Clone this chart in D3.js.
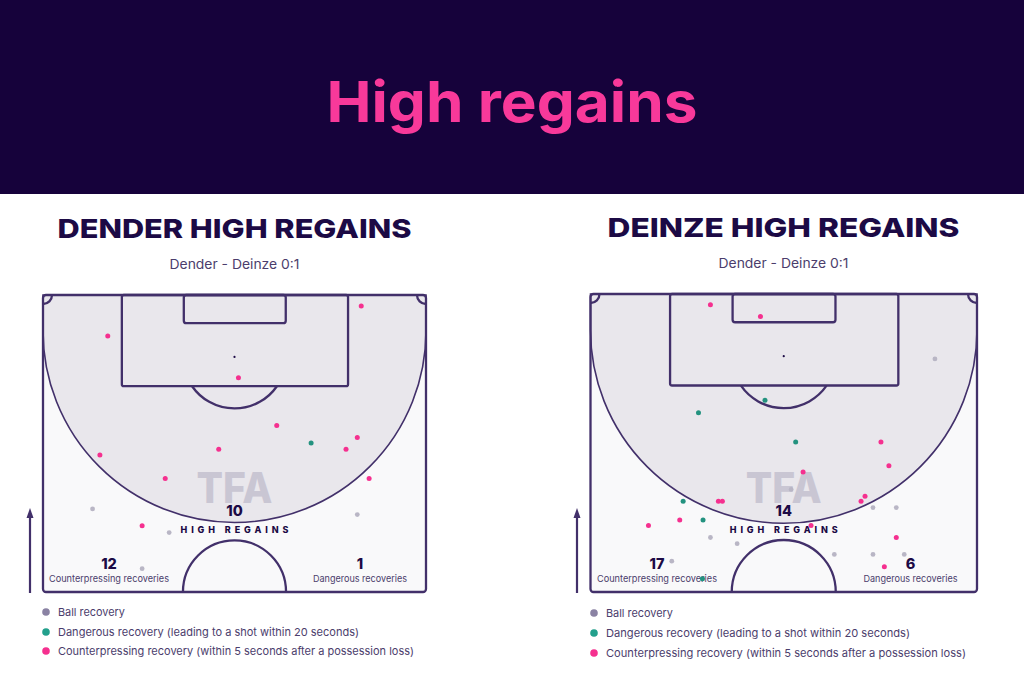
<!DOCTYPE html>
<html><head><meta charset="utf-8">
<script src="https://cdn.jsdelivr.net/npm/d3@7/dist/d3.min.js"></script>
<style>html,body{margin:0;padding:0;background:#fff}svg{display:block}text{font-family:Inter,"Open Sans",sans-serif}</style>
</head><body><svg id="c" width="1024" height="683"></svg>
<script>
const pageTitle = "High regains";
const matchLabel = "Dender - Deinze 0:1";
const legendLabels = ["Ball recovery","Dangerous recovery (leading to a shot within 20 seconds)","Counterpressing recovery (within 5 seconds after a possession loss)"];
const zoneLabels = ["Counterpressing recoveries","Dangerous recoveries","HIGH REGAINS"];

// recoveries: [metres from left touchline, metres from goal line]
const denderCounter = [[56.5,1.95],[11.5,7.3],[34.7,14.7],[41.5,23.2],[31.2,27.4],[55.8,25.3],[53.8,27.4],[10.1,28.4],[21.7,32.6],[57.9,32.6],[17.6,41.0]];
const denderDanger = [[47.6,26.3]];
const denderBall = [[8.8,38.0],[55.8,39.0],[22.4,42.2],[17.6,48.6]];
const deinzeCounter = [[21.1,1.9],[29.9,4.0],[51.1,26.2],[52.5,30.4],[37.4,31.5],[48.3,35.8],[47.6,36.7],[22.5,36.7],[23.2,36.7],[15.7,40.0],[10.2,41.0],[38.8,41.0],[53.8,43.1],[51.7,48.3]];
const deinzeDanger = [[30.7,18.8],[19.0,21.0],[36.1,26.2],[16.3,36.7],[19.8,40.0],[19.7,50.4]];
const deinzeBall = [[60.6,11.5],[35.3,34.6],[49.7,37.8],[53.8,37.8],[21.1,43.1],[25.8,44.2],[42.9,46.1],[49.7,46.1],[55.2,46.1],[14.3,47.3]];
const denderCounts = [10,12,1];
const deinzeCounts = [14,17,6];

const INK="#1c0a45", LINE="#42306a", PINK="#f5308f", GREEN="#23927f", GREY="#b9b6c5", MID="#4b3d6c";
const svg=d3.select("#c");

svg.append("rect").attr("width",1024).attr("height",194).attr("fill","#16023b");
svg.append("text").attr("x",512).attr("y",122).attr("text-anchor","middle")
  .attr("fill","#f8399a").attr("font-size",56).attr("font-weight",700)
  .attr("textLength",371).attr("lengthAdjust","spacingAndGlyphs").text(pageTitle);

function panel(o){
  const g=svg.append("g");
  const x=d3.scaleLinear().domain([0,68]).range(o.xr);
  const y=d3.scaleLinear().domain([0,52.75]).range(o.yr);
  const k=(o.xr[1]-o.xr[0])/68, cx=x(34);
  const top=o.yr[0], bot=o.yr[1], L=o.xr[0], R=o.xr[1], r=(R-L)/2, cy=top+36;

  g.append("text").attr("x",o.tc).attr("y",o.ty).attr("text-anchor","middle").attr("fill",INK)
    .attr("font-size",26).attr("font-weight",800).attr("textLength",o.tw).attr("lengthAdjust","spacingAndGlyphs").text(o.title);
  g.append("text").attr("x",o.tc+(o.sdx||0)).attr("y",o.sy).attr("text-anchor","middle").attr("fill",MID)
    .attr("font-size",13).attr("textLength",130).attr("lengthAdjust","spacingAndGlyphs").text(matchLabel);

  g.append("rect").attr("x",L).attr("y",top).attr("width",R-L).attr("height",bot-top).attr("rx",3).attr("fill","#f9f9fa");
  const p=d3.path(); p.moveTo(L,top); p.lineTo(R,top); p.lineTo(R,cy); p.arc(cx,cy,r,0,Math.PI,false); p.lineTo(L,top); p.closePath();
  g.append("path").attr("d",p.toString()).attr("fill","#e9e7ec").attr("stroke",LINE).attr("stroke-width",1.6);

  // watermark
  g.append("text").attr("x",cx).attr("y",bot-89).attr("text-anchor","middle").attr("fill","#c9c6d3")
    .attr("font-size",42).attr("font-weight",800).attr("textLength",76).attr("lengthAdjust","spacingAndGlyphs").text("TFA");

  const line=s=>s.attr("fill","none").attr("stroke",LINE).attr("stroke-width",2.3);
  g.append("rect").attr("x",x(14)).attr("y",y(0)).attr("width",x(54.16)-x(14)).attr("height",y(16.2)-y(0)).attr("rx",2).call(line);
  g.append("rect").attr("x",x(25)).attr("y",y(0)).attr("width",x(43.1)-x(25)).attr("height",y(5)-y(0)).attr("rx",2.5).call(line);
  const d=d3.path(), spotY=y(11), a=Math.acos(5.2/9.15);
  d.arc(cx,spotY,9.15*k,Math.PI/2-a,Math.PI/2+a,false);
  g.append("path").attr("d",d.toString()).call(line);
  g.append("circle").attr("cx",cx).attr("cy",spotY).attr("r",1.1).attr("fill",INK);
  const c=d3.path(); c.arc(cx,bot,9.15*k,Math.PI,2*Math.PI,false);
  g.append("path").attr("d",c.toString()).call(line);
  const c1=d3.path(); c1.arc(L,top,9,0,Math.PI/2,false);
  g.append("path").attr("d",c1.toString()).call(line);
  const c2=d3.path(); c2.arc(R,top,9,Math.PI/2,Math.PI,false);
  g.append("path").attr("d",c2.toString()).call(line);
  g.append("rect").attr("x",L).attr("y",top).attr("width",R-L).attr("height",bot-top).attr("rx",3).call(line);

  // arrow
  const ax=o.arrowX;
  g.append("line").attr("x1",ax).attr("x2",ax).attr("y1",bot+1).attr("y2",bot-78).attr("stroke",LINE).attr("stroke-width",2.2);
  g.append("path").attr("d",`M${ax-3.5},${bot-74}L${ax},${bot-84}L${ax+3.5},${bot-74}Z`).attr("fill",LINE);

  // texts
  const num=(tx,ty,t)=>g.append("text").attr("x",tx).attr("y",ty).attr("text-anchor","middle").attr("fill",INK).attr("font-size",14.5).attr("font-weight",800).text(t);
  num(cx,bot-76,o.counts[0]);
  num(o.cX,bot-23,o.counts[1]);
  num(o.dX,bot-23,o.counts[2]);
  g.append("text").attr("x",cx).attr("y",bot-59).attr("text-anchor","middle").attr("fill",INK).attr("font-size",9).attr("font-weight",800)
    .attr("textLength",108).text(zoneLabels[2]);
  const lab=(tx,t,w)=>g.append("text").attr("x",tx).attr("y",bot-10).attr("text-anchor","middle").attr("fill",MID).attr("font-size",9.3)
    .attr("textLength",w).attr("lengthAdjust","spacingAndGlyphs").text(t);
  lab(o.cX,zoneLabels[0],120);
  lab(o.dX,zoneLabels[1],94);

  // marks
  const dots=(arr,col,rad)=>g.append("g").selectAll("circle").data(arr).join("circle")
    .attr("cx",q=>x(q[0])).attr("cy",q=>y(q[1])).attr("r",rad).attr("fill",col);
  dots(o.ball,GREY,2.4);
  dots(o.danger,GREEN,2.5);
  dots(o.counter,PINK,2.5);

  // legend
  const cols=["#8a82a3","#23a08c",PINK], w=[o.lw0,o.lw1,o.lw2];
  legendLabels.forEach((t,i)=>{
    const yy=o.ly[i];
    g.append("circle").attr("cx",o.lx).attr("cy",yy).attr("r",3.8).attr("fill",cols[i]);
    g.append("text").attr("x",o.lx+12).attr("y",yy+3.8).attr("fill",MID).attr("font-size",11)
      .attr("textLength",w[i]).attr("lengthAdjust","spacingAndGlyphs").text(t);
  });
}
panel({title:"DENDER HIGH REGAINS",tc:234.5,ty:238,tw:354,sy:269,xr:[43,426],yr:[295,592],arrowX:30,
  counter:denderCounter,danger:denderDanger,ball:denderBall,counts:denderCounts,cX:109,dX:360,
  lx:46,ly:[612,632,651],lw0:67,lw1:301,lw2:356});
panel({title:"DEINZE HIGH REGAINS",tc:783.5,ty:237,tw:352,sy:268,xr:[590.5,977],yr:[294,592],arrowX:577,
  counter:deinzeCounter,danger:deinzeDanger,ball:deinzeBall,counts:deinzeCounts,cX:657,dX:910.5,
  lx:594,ly:[613,633,653],lw0:67,lw1:304,lw2:360});
</script></body></html>
